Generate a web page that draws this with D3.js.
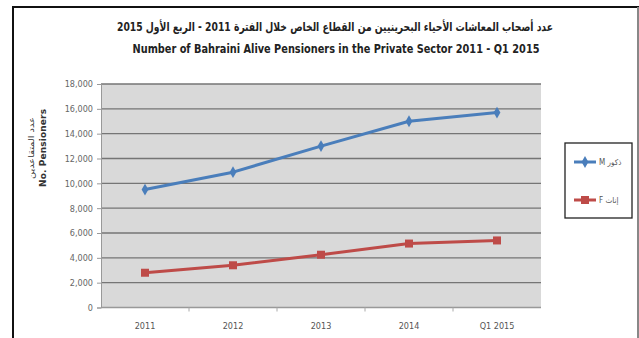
<!DOCTYPE html>
<html><head><meta charset="utf-8">
<script src="https://cdn.jsdelivr.net/npm/d3@7"></script>
<style>
html,body{margin:0;padding:0;background:#fff;}
svg{display:block;}
</style>
</head><body>
<svg id="c" width="639" height="338"></svg>
<script>
const categories = ["2011","2012","2013","2014","Q1 2015"];
const maleValues = [9500, 10900, 13000, 15000, 15700];
const femaleValues = [2800, 3400, 4250, 5150, 5400];
const yTicks = [0,2000,4000,6000,8000,10000,12000,14000,16000,18000];
const seriesNames = ["ذكور M", "إناث F"];
const titleAr = "عدد أصحاب المعاشات الأحياء البحرينيين من القطاع الخاص خلال الفترة 2011 - الربع الأول 2015";
const titleEn = "Number of Bahraini Alive Pensioners in the Private Sector 2011 - Q1 2015";
const yTitleAr = "عدد المتقاعدين";
const yTitleEn = "No. Pensioners";

const svg = d3.select("#c");
const font = "'Liberation Sans Narrow','DejaVu Sans Condensed','Liberation Sans',Arial,sans-serif";

// outer frame
svg.append("rect").attr("x",13).attr("y",7).attr("width",625).attr("height",345)
  .attr("fill","#fff").attr("stroke","#111").attr("stroke-width",2);
svg.append("line").attr("x1",638).attr("x2",638).attr("y1",7).attr("y2",338).attr("stroke","#888").attr("stroke-width",2);

const L=101, R=541, T=84, B=307.5;
const x = d3.scaleBand().domain(categories).range([L,R]);
const y = d3.scaleLinear().domain([0,18000]).range([B,T]);

svg.append("rect").attr("x",L).attr("y",T).attr("width",R-L).attr("height",B-T).attr("fill","#d9d9d9");

// gridlines
svg.append("g").selectAll("line").data(yTicks).join("line")
  .attr("x1",L).attr("x2",R).attr("y1",d=>y(d)).attr("y2",d=>y(d))
  .attr("stroke",d=>d===0?"#999":"#757575").attr("stroke-width",1.4);

// y axis
const yAxis = d3.axisLeft(y).tickValues(yTicks).tickSize(4).tickPadding(4)
  .tickFormat(d3.format(","));
const gy = svg.append("g").attr("transform",`translate(${L},0)`).call(yAxis);
gy.select(".domain").attr("stroke","#999");
gy.selectAll(".tick line").attr("stroke","#999");
gy.selectAll("text").attr("font-family",font).attr("font-size",9).attr("fill","#666");

// x axis
const xAxis = d3.axisBottom(x).tickSize(0).tickPadding(15);
const gx = svg.append("g").attr("transform",`translate(0,${B})`).call(xAxis);
gx.select(".domain").remove();
gx.selectAll("text").attr("font-family",font).attr("font-size",9).attr("fill","#555");
// boundary ticks
svg.append("g").selectAll("line").data(categories.slice(1)).join("line")
  .attr("x1",d=>x(d)).attr("x2",d=>x(d)).attr("y1",B).attr("y2",B+4)
  .attr("stroke","#aaa");

const cx = d => x(d)+x.bandwidth()/2;
const line = d3.line().x((d,i)=>cx(categories[i])).y(d=>y(d));

const colors = ["#4a7ebb","#be4b48"];
// male
svg.append("path").datum(maleValues).attr("d",line).attr("fill","none")
  .attr("stroke",colors[0]).attr("stroke-width",3).attr("stroke-linejoin","round");
svg.append("g").selectAll("path").data(maleValues).join("path")
  .attr("d",d3.symbol(d3.symbolDiamond,40))
  .attr("transform",(d,i)=>`translate(${cx(categories[i])},${y(d)})`)
  .attr("fill",colors[0]);
// female
svg.append("path").datum(femaleValues).attr("d",line).attr("fill","none")
  .attr("stroke",colors[1]).attr("stroke-width",3).attr("stroke-linejoin","round");
svg.append("g").selectAll("rect").data(femaleValues).join("rect")
  .attr("x",(d,i)=>cx(categories[i])-4).attr("y",d=>y(d)-4)
  .attr("width",8).attr("height",8).attr("fill",colors[1]);

// titles
svg.append("text").attr("x",335).attr("y",31).attr("text-anchor","middle")
  .attr("font-family","'DejaVu Sans Condensed','Noto Sans',sans-serif").attr("font-weight","bold").attr("font-size",12)
  .attr("fill","#222").attr("textLength",436).attr("lengthAdjust","spacingAndGlyphs")
  .attr("direction","rtl").text(titleAr);
svg.append("text").attr("x",336).attr("y",53).attr("text-anchor","middle")
  .attr("font-family",font).attr("font-weight","bold").attr("font-size",12)
  .attr("fill","#222").attr("textLength",407).attr("lengthAdjust","spacingAndGlyphs")
  .text(titleEn);

// y titles
svg.append("text").attr("transform","translate(34,148) rotate(-90)").attr("text-anchor","middle")
  .attr("font-family","'DejaVu Sans','Noto Sans',sans-serif").attr("font-size",8).attr("fill","#333")
  .attr("textLength",62).attr("lengthAdjust","spacingAndGlyphs").text(yTitleAr);
svg.append("text").attr("transform","translate(46,148) rotate(-90)").attr("text-anchor","middle")
  .attr("font-family","'DejaVu Sans',sans-serif").attr("font-weight","bold").attr("font-size",9).attr("fill","#333")
  .attr("textLength",78).attr("lengthAdjust","spacing").text(yTitleEn);

// legend
const lg = svg.append("g");
lg.append("rect").attr("x",565).attr("y",143).attr("width",67).attr("height",75)
  .attr("fill","#fff").attr("stroke","#222").attr("stroke-width",1.3);
[0,1].forEach(i=>{
  const ly = i===0?162:200;
  lg.append("line").attr("x1",574).attr("x2",596).attr("y1",ly).attr("y2",ly)
    .attr("stroke",colors[i]).attr("stroke-width",3);
  if(i===0){
    lg.append("path").attr("d",d3.symbol(d3.symbolDiamond,40)).attr("transform",`translate(585,${ly})`).attr("fill",colors[0]);
  } else {
    lg.append("rect").attr("x",581).attr("y",ly-4).attr("width",8).attr("height",8).attr("fill",colors[1]);
  }
  lg.append("text").attr("x",599).attr("y",ly+3).attr("font-family","'DejaVu Sans Condensed',sans-serif")
    .attr("font-size",8).attr("fill","#555").attr("direction","rtl").attr("text-anchor","end")
    .text(seriesNames[i]);
});
</script>
</body></html>
